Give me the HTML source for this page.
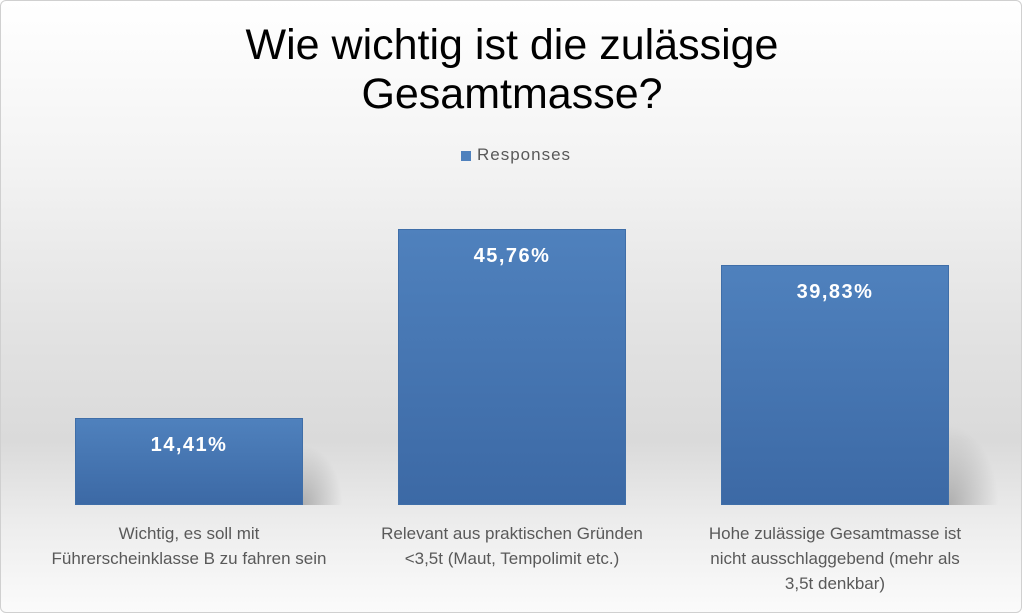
<!DOCTYPE html>
<html><head><meta charset="utf-8"><style>
body{margin:0;width:1024px;height:615px;overflow:hidden;font-family:"Liberation Sans",sans-serif}
#c{position:absolute;left:0;top:0;width:1020px;height:611px;border:1px solid #d0d0d0;border-radius:6px;
background:linear-gradient(to bottom,#ffffff 0%,#f4f4f4 25%,#e2e2e2 55%,#dadada 72%,#ececec 85%,#fbfbfb 100%);}
.t{position:absolute;left:0;width:1024px;text-align:center;font-size:43px;color:#000}
.bar{position:absolute;background:linear-gradient(to bottom,#4f81bd,#3c69a5);border:1px solid #3f6ea8;box-sizing:border-box}
.v{position:absolute;width:228px;text-align:center;color:#fff;font-weight:bold;font-size:20px;letter-spacing:1.5px}
.l{position:absolute;width:300px;text-align:center;color:#595959;font-size:17px;line-height:25px}
.sh{position:absolute;height:60px;background:radial-gradient(ellipse at left bottom,rgba(150,150,150,.7),rgba(200,200,200,0) 70%)}
</style></head><body><div id="c"></div>
<div class="t" style="top:21px">Wie wichtig ist die zulässige</div>
<div class="t" style="top:70px">Gesamtmasse?</div>
<div style="position:absolute;left:461px;top:151px;width:10px;height:10px;background:#4f81bd"></div>
<div style="position:absolute;left:477px;top:145px;font-size:17px;letter-spacing:1px;color:#595959">Responses</div>
<div class="sh" style="left:303px;top:445px;width:40px"></div>
<div class="sh" style="left:949px;top:425px;width:50px;height:80px"></div>
<div class="bar" style="left:75px;top:418px;width:228px;height:87px"></div>
<div class="bar" style="left:398px;top:229px;width:228px;height:276px"></div>
<div class="bar" style="left:721px;top:265px;width:228px;height:240px"></div>
<div class="v" style="left:75px;top:434px">14,41%</div>
<div class="v" style="left:398px;top:245px">45,76%</div>
<div class="v" style="left:721px;top:281px">39,83%</div>
<div class="l" style="left:39px;top:521px">Wichtig, es soll mit<br>Führerscheinklasse B zu fahren sein</div>
<div class="l" style="left:362px;top:521px">Relevant aus praktischen Gründen<br>&lt;3,5t (Maut, Tempolimit etc.)</div>
<div class="l" style="left:685px;top:521px">Hohe zulässige Gesamtmasse ist<br>nicht ausschlaggebend (mehr als<br>3,5t denkbar)</div>
</body></html>
